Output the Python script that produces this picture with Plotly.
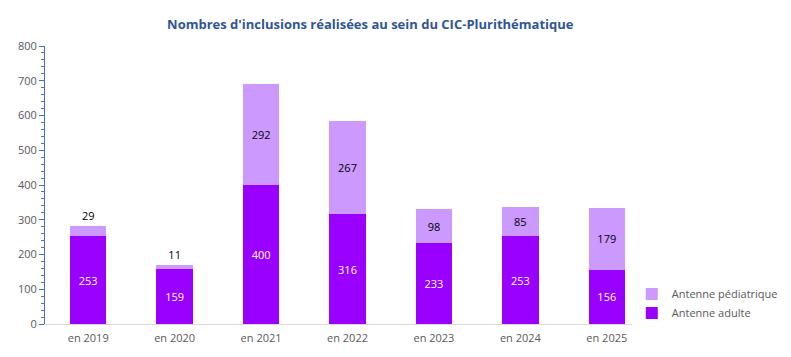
import plotly.graph_objects as go

categories = ["en 2019", "en 2020", "en 2021", "en 2022", "en 2023", "en 2024", "en 2025"]
adulte = [253, 159, 400, 316, 233, 253, 156]
pediatrique = [29, 11, 292, 267, 98, 85, 179]
y_ticks = [0, 100, 200, 300, 400, 500, 600, 700, 800]

FONT = "Open Sans"
ped_pos = ["outside" if v < 50 else "inside" for v in pediatrique]

fig = go.Figure()
fig.add_trace(go.Bar(
    x=categories, y=adulte, name="Antenne adulte", legendgroup="a",
    marker=dict(color="#9900FF", line=dict(width=0)),
    text=[str(v) for v in adulte], textposition="inside", insidetextanchor="middle",
    textfont=dict(color="white", size=11, family=FONT),
    constraintext="none",
))
fig.add_trace(go.Bar(
    x=categories, y=pediatrique, name="Antenne pédiatrique", legendgroup="p",
    marker=dict(color="#CC99FF", line=dict(width=0)),
    text=[str(v) for v in pediatrique], textposition=ped_pos, insidetextanchor="middle",
    textfont=dict(color="black", size=11, family=FONT),
    outsidetextfont=dict(color="black", size=11, family=FONT),
    constraintext="none", cliponaxis=False,
))

fig.update_layout(
    width=791, height=357,
    barmode="stack", bargap=0.58,
    plot_bgcolor="white", paper_bgcolor="white",
    margin=dict(l=37, r=149, t=38, b=41, autoexpand=False),
    font=dict(family=FONT, size=11, color="#595959"),
    title=dict(text="<b>Nombres d'inclusions réalisées au sein du CIC-Plurithématique</b>",
               x=0.458, xanchor="center", y=0.955, yanchor="middle",
               font=dict(size=13, color="#2F5597", family=FONT)),
    legend=dict(xref="container", yref="container", x=0.7886, y=0.105,
                xanchor="left", yanchor="bottom",
                traceorder="reversed", font=dict(size=11, color="#595959", family=FONT),
                itemwidth=30, tracegroupgap=9),
    uniformtext=dict(mode=False),
)
fig.update_yaxes(
    range=[0, 800], tickvals=y_ticks, showgrid=False, zeroline=False,
    showline=True, linecolor="#4472C4", linewidth=1,
    ticks="outside", ticklen=5, tickcolor="#4472C4",
    minor=dict(dtick=20, ticks="outside", ticklen=3, tickcolor="#4472C4"),
    tickfont=dict(size=11, color="#595959"),
)
fig.update_xaxes(
    showgrid=False, showline=True, linecolor="#D9D9D9", linewidth=1,
    ticks="", ticklabelstandoff=4, tickfont=dict(size=11, color="#595959"),
)

fig.write_html("out.html")
